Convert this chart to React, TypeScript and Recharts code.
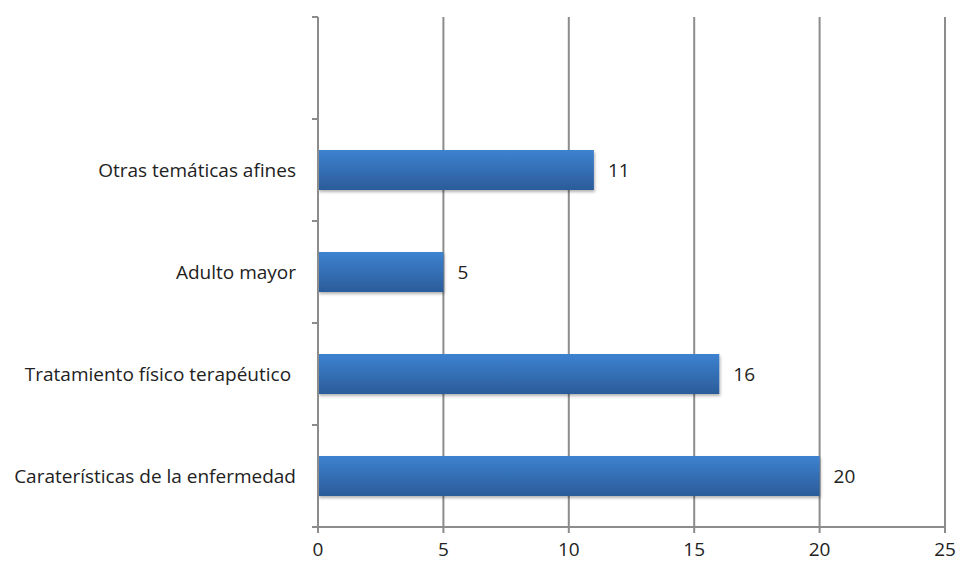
import { BarChart, Bar, XAxis, YAxis, CartesianGrid, LabelList } from 'recharts';

const categories = [
  '',
  'Otras temáticas afines',
  'Adulto mayor',
  'Tratamiento físico terapéutico ',
  'Caraterísticas de la enfermedad',
];
const values: (number | null)[] = [null, 11, 5, 16, 20];
const xTicks = [0, 5, 10, 15, 20, 25];

const data = categories.map((name, i) => ({ name, value: values[i] }));

const W = 959;
const H = 563;
const TOP = 17;
const BOTTOM = 36;
const AXIS_W = 318;
const HALF_BAND = (H - TOP - BOTTOM) / categories.length / 2;
const FONT = '"Open Sans", sans-serif';
const FS = 19;

const CategoryTick = (props: any) => {
  const { x, y, payload } = props;
  return (
    <g>
      <line x1={AXIS_W - 6} x2={AXIS_W} y1={y - HALF_BAND} y2={y - HALF_BAND} stroke="#8c8c8c" strokeWidth={2} />
      <line x1={AXIS_W - 6} x2={AXIS_W} y1={y + HALF_BAND} y2={y + HALF_BAND} stroke="#8c8c8c" strokeWidth={2} />
      <text
        x={x - 14}
        y={y}
        dy="0.35em"
        textAnchor="end"
        fill="#222"
        fontSize={FS}
        fontFamily={FONT}
        style={{ whiteSpace: 'pre' }}
      >
        {payload.value}
      </text>
    </g>
  );
};

export default function App() {
  return (
    <div style={{ position: 'absolute', left: 0, top: 0, width: W, height: H, background: '#fff' }}>
      <BarChart
        width={W}
        height={H}
        data={data}
        layout="vertical"
        margin={{ top: TOP, right: 14, bottom: 0, left: 0 }}
      >
        <defs>
          <linearGradient id="barGrad" x1="0" y1="0" x2="0" y2="1">
            <stop offset="0%" stopColor="#3d82d0" />
            <stop offset="100%" stopColor="#2b5c9a" />
          </linearGradient>
          <filter id="shadow" x="-5%" y="-20%" width="110%" height="150%">
            <feDropShadow dx="1" dy="2" stdDeviation="1.5" floodColor="#000" floodOpacity="0.3" />
          </filter>
        </defs>
        <CartesianGrid horizontal={false} vertical={true} stroke="#8c8c8c" strokeWidth={2} />
        <XAxis
          type="number"
          domain={[0, 25]}
          ticks={xTicks}
          height={BOTTOM}
          axisLine={{ stroke: '#8c8c8c', strokeWidth: 2 }}
          tickLine={{ stroke: '#8c8c8c', strokeWidth: 2 }}
          tickSize={6}
          tickMargin={10}
          tick={{ fill: '#222', fontSize: FS, fontFamily: FONT }}
        />
        <YAxis
          type="category"
          dataKey="name"
          width={AXIS_W}
          axisLine={{ stroke: '#8c8c8c', strokeWidth: 2 }}
          tickLine={false}
          tick={<CategoryTick />}
          interval={0}
        />
        <Bar dataKey="value" fill="url(#barGrad)" barSize={40} isAnimationActive={false} filter="url(#shadow)">
          <LabelList dataKey="value" position="right" offset={14} fill="#222" fontSize={FS} fontFamily={FONT} />
        </Bar>
      </BarChart>
    </div>
  );
}
